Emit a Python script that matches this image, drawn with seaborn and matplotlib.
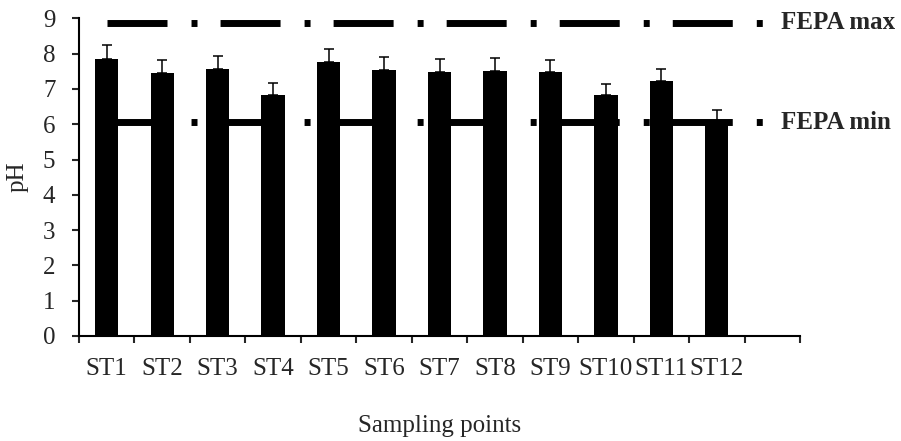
import matplotlib
matplotlib.use("Agg")
import matplotlib.pyplot as plt
import seaborn as sns
import numpy as np
import pandas as pd

# Mean pH and standard deviation per sampling station
stations = ["ST1", "ST2", "ST3", "ST4", "ST5", "ST6",
            "ST7", "ST8", "ST9", "ST10", "ST11", "ST12"]
ph_mean = [7.85, 7.46, 7.57, 6.84, 7.76, 7.54, 7.49, 7.52, 7.47, 6.82, 7.21, 6.08]
ph_sd = [0.39, 0.35, 0.36, 0.34, 0.36, 0.36, 0.35, 0.35, 0.36, 0.32, 0.35, 0.32]

# FEPA permissible limits
fepa_labels = ["FEPA max", "FEPA min"]
fepa_values = [8.88, 6.05]

sns.set_style("ticks")
plt.rcParams["font.family"] = ["Liberation Serif", "DejaVu Serif"]
plt.rcParams["lines.scale_dashes"] = False

FS = 18

df = pd.DataFrame({"station": stations, "pH": ph_mean})

fig = plt.figure(figsize=(9.01, 4.41), dpi=100)
ax = fig.add_axes([79 / 901, 1 - 336 / 441, (800 - 79) / 901, (336 - 18.3) / 441])

# Limit lines sit behind the bars
n_slots = len(stations) + 1
for label, val in zip(fepa_labels, fepa_values):
    ax.plot([0, len(stations)], [val, val], color="black", lw=5.0,
            dashes=(43.2, 17.3, 4.3, 16.6), solid_capstyle="butt",
            dash_capstyle="butt", zorder=1)
    ax.text(len(stations) + 0.15, val, label, fontsize=FS, fontweight="bold",
            va="center", ha="left", zorder=5)

sns.barplot(data=df, x="station", y="pH", order=stations, color="black",
            width=0.42, saturation=1, errorbar=None, ax=ax, zorder=2,
            edgecolor="black", linewidth=0)

# Upper-only error bars
xpos = np.arange(len(stations))
ax.errorbar(xpos, ph_mean, yerr=[np.zeros(len(ph_sd)), ph_sd], fmt="none",
            ecolor="black", elinewidth=1.1, capsize=3.6, capthick=1.1, zorder=3)

ax.set_xlim(-0.5, n_slots - 0.5)
ax.set_ylim(0, 9)
ax.set_yticks(range(0, 10))
ax.tick_params(axis="y", labelsize=FS, length=5, width=1.5, pad=12, direction="out")

# Tick marks at slot boundaries, labels at slot centres
ax.set_xticks(np.arange(-0.5, n_slots, 1.0))
ax.set_xticklabels([])
ax.set_xticks(xpos, minor=True)
ax.set_xticklabels(stations, minor=True)
ax.tick_params(axis="x", which="major", length=5, width=1.5, direction="out")
ax.tick_params(axis="x", which="minor", length=0, labelsize=FS, pad=16)

ax.set_xlabel("Sampling points", fontsize=FS, labelpad=25)
ax.set_ylabel("pH", fontsize=FS, labelpad=10)

sns.despine(ax=ax)
for s in ("left", "bottom"):
    ax.spines[s].set_linewidth(1.5)
    ax.spines[s].set_color("black")

fig.savefig("out.png", dpi=100)
